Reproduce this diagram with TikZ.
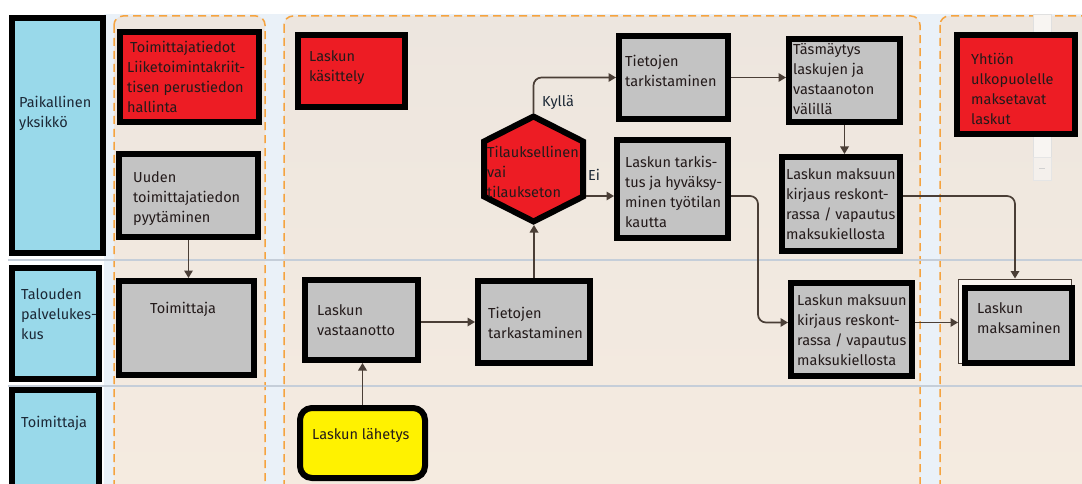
\documentclass[tikz,border=0pt]{standalone}
\usepackage{fontspec}
\setmainfont{Fira Sans}
\usetikzlibrary{arrows.meta,calc}
\definecolor{hdr}{HTML}{99D9EA}
\definecolor{redc}{HTML}{ED1C24}
\definecolor{greyc}{HTML}{C3C3C3}
\definecolor{yelc}{HTML}{FFF200}
\definecolor{gapc}{HTML}{EAF1F8}
\definecolor{colt}{HTML}{EDE6DF}
\definecolor{colb}{HTML}{F5EBE0}
\definecolor{sepc}{HTML}{C5CED9}
\definecolor{dashc}{HTML}{F5A33F}
\definecolor{connc}{HTML}{4A3E36}
\definecolor{txtc}{HTML}{231A1A}
\definecolor{hdrtxt}{HTML}{1C2836}
\begin{document}
\begin{tikzpicture}[x=1pt,y=-1pt,
  box/.style={draw=black,line width=6pt,inner sep=0pt,outer sep=3pt},
  hdrbox/.style={box,fill=hdr},
  txt/.style={anchor=north west,inner sep=0pt,align=left,font=\fontsize{14.5}{20}\selectfont,text=txtc},
  hdrtext/.style={txt,text=hdrtxt},
  colbox/.style={draw=dashc,line width=1.5pt,dash pattern=on 8pt off 5pt,rounded corners=9pt,top color=colt,bottom color=colb},
  conn/.style={draw=connc,line width=1.7pt,rounded corners=8pt,-{Triangle[length=7.5pt,width=8.5pt]}},
  lbl/.style={inner sep=0pt,font=\fontsize{14.5}{20}\selectfont,text=hdrtxt}]
\useasboundingbox (0,0) rectangle (1082,484);
\fill[white] (0,0) rectangle (1082,484);
% panel background
\fill[gapc] (104,14) rectangle (1082,484);
% columns
\path[colbox] (114,16) rectangle (265,500);
\path[colbox] (284,16) rectangle (920,500);
\path[colbox] (940,16) rectangle (1100,500);
% lane separators
\draw[sepc,line width=2.5pt] (8,260) -- (1082,260);
\draw[sepc,line width=2.5pt] (8,386) -- (1082,386);
% scrollbar remnant
\draw[fill=white!60!colt,draw=black!12] (1033,14) rectangle (1051,157);
\draw[fill=white!40!colt,draw=black!10] (1033,157) rectangle (1051,180);
\draw[black!18,line width=1pt] (1039,169) -- (1045,169);
% lane headers
\node[hdrbox,minimum width=91,minimum height=235] (h1) at (57.5,135.5) {};
\node[hdrbox,minimum width=87,minimum height=111] (h2) at (55.5,323.5) {};
\node[hdrbox,minimum width=87,minimum height=110] (h3) at (55.5,445) {};
\node[hdrtext] (h1t) at (19,96) {Paikallinen\\yksikkö};
\node[hdrtext] (h2t) at (21,288) {Talouden\\palvelukes-\\kus};
\node[hdrtext] (h3t) at (21,416) {Toimittaja};
% boxes
\node[box,fill=redc,minimum width=139,minimum height=90] (toimt) at (189.5,77) {};
\node[box,fill=greyc,minimum width=139,minimum height=83] (uuden) at (188.5,195.5) {};
\node[box,fill=greyc,minimum width=135,minimum height=94] (toim2) at (186.5,328) {};
\node[box,fill=redc,minimum width=107,minimum height=72] (kasit) at (351.5,71) {};
\node[box,fill=greyc,minimum width=109,minimum height=83] (tark1) at (673.5,77.5) {};
\node[box,fill=greyc,minimum width=111,minimum height=98] (hyv) at (672.5,189) {};
\node[box,fill=greyc,minimum width=111,minimum height=83] (tasm) at (844.5,80.5) {};
\node[box,fill=greyc,minimum width=118,minimum height=94] (kirj1) at (841,204) {};
\node[box,fill=greyc,minimum width=121,minimum height=93] (kirj2) at (851.5,329.5) {};
\node[box,fill=redc,minimum width=118,minimum height=99] (yht) at (1016,84.5) {};
\node[box,fill=greyc,minimum width=113,minimum height=80] (vast) at (361.5,320) {};
\node[box,fill=greyc,minimum width=112,minimum height=82] (tark2) at (534,322) {};
\node[box,fill=yelc,rounded corners=12pt,minimum width=125,minimum height=70] (lah) at (362.5,443) {};
\node[draw=connc,line width=1pt,fill=white!55!colb,inner sep=0pt,outer sep=0.5pt,minimum width=113,minimum height=84] (maksbg) at (1015,321) {};
\node[box,fill=greyc,minimum width=107,minimum height=75] (maks) at (1018.5,325.5) {};
% decision hexagon
\node[inner sep=0pt,outer sep=0pt,minimum width=105,minimum height=112] (hex) at (533.5,169) {};
\draw[fill=redc,line width=6pt] (533.5,116.5) -- (583,141.5) -- (583,196.5) -- (533.5,221.5) -- (484,196.5) -- (484,141.5) -- cycle;
% texts
\node[txt] (toimtt) at (127,41) {\hspace*{3pt}Toimittajatiedot\\Liiketoimintakriit-\\tisen perustiedon\\hallinta};
\node[txt] (uudent) at (133,171) {Uuden\\toimittajatiedon\\pyytäminen};
\node[txt] (toim2t) at (150,302) {Toimittaja};
\node[txt] (kasitt) at (309,50) {Laskun\\käsittely};
\node[txt] (hext) at (487,146) {Tilauksellinen\\vai\\tilaukseton};
\node[txt] (tark1t) at (625,55) {Tietojen\\tarkistaminen};
\node[txt] (hyvt) at (625,156) {Laskun tarkis-\\tus ja hyväksy-\\minen työtilan\\kautta};
\node[txt] (tasmt) at (793,43) {Täsmäytys\\laskujen ja\\vastaanoton\\välillä};
\node[txt] (kirj1t) at (786,168) {Laskun maksuun\\kirjaus reskont-\\rassa / vapautus\\maksukiellosta};
\node[txt] (kirj2t) at (797,294) {Laskun maksuun\\kirjaus reskont-\\rassa / vapautus\\maksukiellosta};
\node[txt] (makst) at (977,302) {Laskun\\maksaminen};
\node[txt] (yhtt) at (971,53) {Yhtiön\\ulkopuolelle\\maksetavat\\laskut};
\node[txt] (vastt) at (317,304) {Laskun\\vastaanotto};
\node[txt] (tark2t) at (488,307) {Tietojen\\tarkastaminen};
\node[txt] (laht) at (312,428) {Laskun lähetys};
% connectors
\draw[conn] (uuden.south) -- (uuden.south |- toim2.north);
\draw[conn] (lah.north) -- (lah.north |- vast.south);
\draw[conn] ($(vast.east)+(0,2)$) -- ($(tark2.west)+(0,0)$);
\draw[conn] (tark2.north) -- (tark2.north |- hex.south);
\draw[conn] (hex.north) |- (tark1.west);
\node[lbl] (kylla) at (558,102) {Kyllä};
\coordinate (eiend) at ($(hyv.west)+(0,7)$);
\draw[conn] (hex.east |- eiend) -- (eiend);
\node[lbl] (ei) at (594,175) {Ei};
\draw[conn] (tark1.east) -- (tark1.east -| tasm.west);
\draw[conn] (tasm.south) -- (tasm.south |- kirj1.north);
\coordinate (k2in) at ($(kirj2.west)+(0,-7)$);
\draw[conn] ($(hyv.east)+(0,7)$) -| ($(k2in)+(-30,0)$) -- (k2in);
\draw[conn] ($(kirj1.east)+(0,-8)$) -| (maksbg.north);
\coordinate (k2out) at ($(kirj2.east)+(0,-7)$);
\draw[conn] (k2out) -- (k2out -| maksbg.west);
\end{tikzpicture}
\end{document}
